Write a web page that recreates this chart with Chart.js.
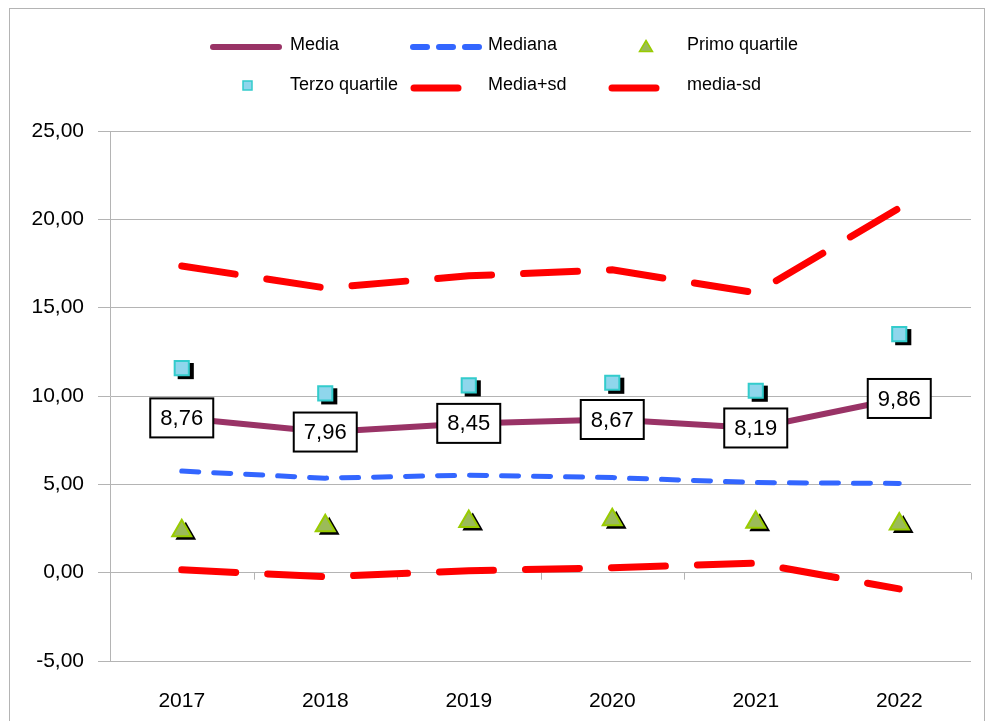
<!DOCTYPE html>
<html>
<head>
<meta charset="utf-8">
<script src="https://cdn.jsdelivr.net/npm/chart.js@4/dist/chart.umd.min.js"></script>
<style>
  html, body { margin: 0; padding: 0; background: #fff; }
  #wrap { position: relative; width: 991px; height: 721px; overflow: hidden; font-family: "Liberation Sans", Arial, sans-serif; }
  #frame { position: absolute; left: 9px; top: 8px; width: 976px; height: 740px; border: 1px solid #b4b4b4; box-sizing: border-box; }
  #chartCanvas { position: absolute; left: 0; top: 0; }
  .leg { position: absolute; font-size: 18px; color: #000; line-height: 20px; white-space: nowrap; }
  .sw { position: absolute; }
</style>
</head>
<body>
<div id="wrap">
  <div id="frame"></div>
  <canvas id="chartCanvas" width="991" height="721"></canvas>
  <div id="legend"></div>
</div>
<script>
document.addEventListener("DOMContentLoaded", function () {
    const years = ["2017", "2018", "2019", "2020", "2021", "2022"];
    const seriesNames = ["Media", "Mediana", "Primo quartile", "Terzo quartile", "Media+sd", "media-sd"];

    const media = [8.76, 7.96, 8.45, 8.67, 8.19, 9.86];
    const mediana = [5.75, 5.35, 5.52, 5.38, 5.10, 5.05];
    const primoQuartile = [2.37, 2.65, 2.90, 3.00, 2.85, 2.75];
    const terzoQuartile = [11.58, 10.15, 10.60, 10.75, 10.30, 13.50];
    const mediaPiuSd = [17.36, 16.12, 16.80, 17.14, 15.84, 20.64];
    const mediaMenoSd = [0.16, -0.23, 0.11, 0.28, 0.54, -0.92];

    const yMin = -5, yMax = 25, yStep = 5;

    const FONT = "'Liberation Sans', Arial, sans-serif";
    const gridColor = "#b4b4b4";

    // number format with comma
    function fmt(v) {
        return v.toFixed(2).replace(".", ",");
    }

    // black drop shadow behind the marker series (drawn first, offset)
    const shadowPlugin = {
        id: "markerShadow",
        beforeDatasetDraw(chart, args) {
            const ds = chart.data.datasets[args.index];
            if (ds.showLine !== false) return;
            const c = chart.ctx;
            const r = ds.pointRadius;
            const dx = 4, dy = 3;
            c.save();
            c.fillStyle = "#000";
            args.meta.data.forEach(pt => {
                const x = pt.x + dx, y = pt.y + dy;
                c.beginPath();
                if (ds.pointStyle === "triangle") {
                    for (let k = 0; k < 3; k++) {
                        const a = k * 2 * Math.PI / 3;
                        const px = x + Math.sin(a) * (r + 1), py = y - Math.cos(a) * (r + 1);
                        if (k === 0) c.moveTo(px, py); else c.lineTo(px, py);
                    }
                    c.closePath();
                } else {
                    const s = Math.SQRT1_2 * r + 1;
                    c.rect(x - s, y - s, 2 * s, 2 * s);
                }
                c.fill();
            });
            c.restore();
        }
    };

    // boxed labels on the Media line + small ticks on the zero line
    const labelPlugin = {
        id: "boxLabels",
        afterDatasetsDraw(chart) {
            const ctx = chart.ctx;
            const meta = chart.getDatasetMeta(0);
            ctx.save();
            ctx.font = "22px " + FONT;
            ctx.textAlign = "center";
            ctx.textBaseline = "middle";
            meta.data.forEach((pt, i) => {
                const w = 63, h = 39;
                ctx.fillStyle = "#fff";
                ctx.fillRect(pt.x - w / 2, pt.y - h / 2, w, h);
                ctx.lineWidth = 2;
                ctx.strokeStyle = "#000";
                ctx.strokeRect(pt.x - w / 2, pt.y - h / 2, w, h);
                ctx.fillStyle = "#000";
                ctx.fillText(fmt(media[i]), pt.x, pt.y + 1);
            });
            ctx.restore();
        },
        beforeDatasetsDraw(chart) {
            const ctx = chart.ctx;
            const y0 = chart.scales.y.getPixelForValue(0);
            const area = chart.chartArea;
            const step = (area.right - area.left) / years.length;
            ctx.save();
            ctx.strokeStyle = gridColor;
            ctx.lineWidth = 1;
            for (let i = 0; i <= years.length; i++) {
                const px = Math.round(area.left + i * step) + 0.5;
                ctx.beginPath();
                ctx.moveTo(px, y0);
                ctx.lineTo(px, y0 + 7);
                ctx.stroke();
            }
            ctx.restore();
        }
    };

    const ctx = document.getElementById("chartCanvas").getContext("2d");

    // light blue vertical gradient for the square markers
    const sqFill = ctx.createLinearGradient(0, 0, 0, 721);
    sqFill.addColorStop(0, "#9fe0f2");
    sqFill.addColorStop(1, "#7ccbe6");

    new Chart(ctx, {
        type: "line",
        data: {
            labels: years,
            datasets: [
                {
                    label: seriesNames[0],
                    data: media,
                    borderColor: "#993366",
                    borderWidth: 6,
                    pointRadius: 0,
                    tension: 0,
                    order: 3
                },
                {
                    label: seriesNames[1],
                    data: mediana,
                    borderColor: "#3366ff",
                    borderWidth: 5,
                    borderDash: [17, 15],
                    borderCapStyle: "round",
                    pointRadius: 0,
                    tension: 0,
                    order: 4
                },
                {
                    label: seriesNames[2],
                    data: primoQuartile,
                    showLine: false,
                    pointStyle: "triangle",
                    pointRadius: 11,
                    pointBackgroundColor: "#9bbb59",
                    pointBorderColor: "#99cc00",
                    pointBorderWidth: 2,
                    order: 1
                },
                {
                    label: seriesNames[3],
                    data: terzoQuartile,
                    showLine: false,
                    pointStyle: "rect",
                    pointRadius: 10,
                    pointBackgroundColor: "#8fd6ec",
                    pointBorderColor: "#33cccc",
                    pointBorderWidth: 2,
                    order: 2
                },
                {
                    label: seriesNames[4],
                    data: mediaPiuSd,
                    borderColor: "#ff0000",
                    borderWidth: 7,
                    borderDash: [54, 32],
                    borderCapStyle: "round",
                    pointRadius: 0,
                    tension: 0,
                    order: 5
                },
                {
                    label: seriesNames[5],
                    data: mediaMenoSd,
                    borderColor: "#ff0000",
                    borderWidth: 7,
                    borderDash: [54, 32],
                    borderCapStyle: "round",
                    pointRadius: 0,
                    tension: 0,
                    order: 6
                }
            ]
        },
        options: {
            responsive: false,
            animation: false,
            layout: { padding: { left: 0, top: 131, right: 20, bottom: 0 } },
            plugins: {
                legend: { display: false },
                tooltip: { enabled: false }
            },
            scales: {
                x: {
                    offset: true,
                    grid: { display: false },
                    border: { display: false },
                    ticks: {
                        color: "#000",
                        font: { family: FONT, size: 21 },
                        padding: 20,
                        maxRotation: 0
                    },
                    afterFit(scale) { scale.height = 60; }
                },
                y: {
                    min: yMin,
                    max: yMax,
                    grid: { color: gridColor, lineWidth: 1, tickLength: 12, drawTicks: true },
                    border: { display: true, color: gridColor, width: 1 },
                    ticks: {
                        stepSize: yStep,
                        color: "#000",
                        font: { family: FONT, size: 21 },
                        padding: 14,
                        callback: v => fmt(v)
                    },
                    afterFit(scale) { scale.width = 110; }
                }
            }
        },
        plugins: [shadowPlugin, labelPlugin]
    });

    // legend built from the series names
    const legend = document.getElementById("legend");
    const items = [
        { name: seriesNames[0], tx: 290, ty: 44, sw: '<svg width="80" height="12"><line x1="4" y1="6" x2="70" y2="6" stroke="#993366" stroke-width="6" stroke-linecap="round"/></svg>', sx: 209, sy: 39 },
        { name: seriesNames[1], tx: 488, ty: 44, sw: '<svg width="80" height="12"><line x1="5" y1="6" x2="75" y2="6" stroke="#3366ff" stroke-width="6" stroke-dasharray="14 12" stroke-linecap="round"/></svg>', sx: 408, sy: 39 },
        { name: seriesNames[2], tx: 687, ty: 44, sw: '<svg width="16" height="14"><polygon points="8,1.5 14.5,12.5 1.5,12.5" fill="#9bbb59" stroke="#99cc00" stroke-width="1.5"/></svg>', sx: 638, sy: 39 },
        { name: seriesNames[3], tx: 290, ty: 84, sw: '<svg width="14" height="14"><rect x="2" y="2" width="9" height="9" fill="#8fd6ec" stroke="#33cccc" stroke-width="1.5"/></svg>', sx: 241, sy: 79 },
        { name: seriesNames[4], tx: 488, ty: 84, sw: '<svg width="60" height="12"><line x1="5" y1="6" x2="49" y2="6" stroke="#ff0000" stroke-width="7" stroke-linecap="round"/></svg>', sx: 409, sy: 80 },
        { name: seriesNames[5], tx: 687, ty: 84, sw: '<svg width="60" height="12"><line x1="5" y1="6" x2="49" y2="6" stroke="#ff0000" stroke-width="7" stroke-linecap="round"/></svg>', sx: 607, sy: 80 }
    ];
    items.forEach(it => {
        const s = document.createElement("div");
        s.className = "sw";
        s.style.left = it.sx + "px";
        s.style.top = it.sy + "px";
        s.innerHTML = it.sw;
        legend.appendChild(s);
        const t = document.createElement("div");
        t.className = "leg";
        t.style.left = it.tx + "px";
        t.style.top = (it.ty - 10) + "px";
        t.textContent = it.name;
        legend.appendChild(t);
    });
});
</script>
</body>
</html>
